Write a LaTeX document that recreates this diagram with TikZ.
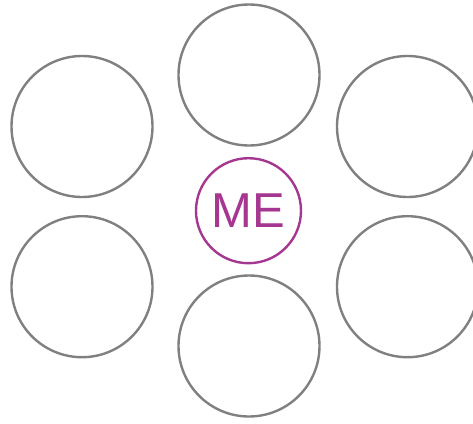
\documentclass[tikz,border=0pt]{standalone}
\usepackage{fontspec}
\setmainfont{Liberation Sans}
\definecolor{ringgray}{RGB}{128,128,128}
\definecolor{mepurple}{RGB}{166,55,145}
\begin{document}
\begin{tikzpicture}[x=1pt,y=-1pt,
  ring/.style={circle,draw=ringgray,line width=2.4pt,minimum size=141pt,inner sep=0pt},
  mering/.style={circle,draw=mepurple,line width=2.4pt,minimum size=105pt,inner sep=0pt,
    text=mepurple,font=\fontsize{49}{49}\selectfont}]
\useasboundingbox (0,0) rectangle (473,423);
\node[ring] (top) at (249,75) {};
\node[ring] (tl) at (82,126.5) {};
\node[ring] (tr) at (407.5,126.5) {};
\node[ring] (bl) at (82,286.7) {};
\node[ring] (br) at (407.5,286.7) {};
\node[ring] (bot) at (249,346) {};
\node[mering] (me) at (248.5,210.7) {ME};
\end{tikzpicture}
\end{document}
